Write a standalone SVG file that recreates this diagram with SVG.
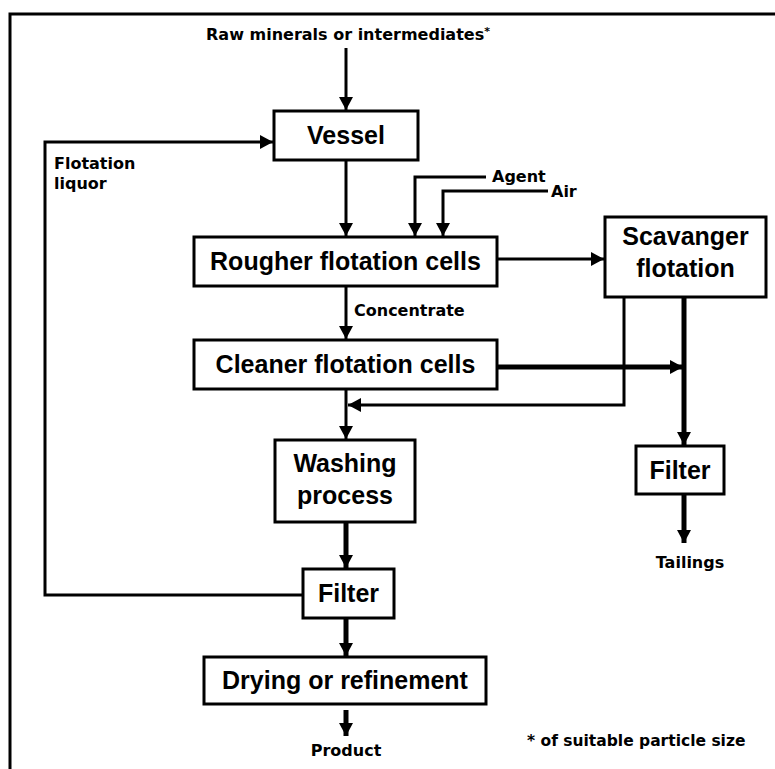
<svg xmlns="http://www.w3.org/2000/svg" width="775" height="769" viewBox="0 0 775 769">
<style>
.box{fill:#fff;stroke:#000;stroke-width:3}
.bt{font-family:"Liberation Sans",Arial,sans-serif;font-weight:bold;font-size:25px;text-anchor:middle;fill:#000}
.lb{font-family:"DejaVu Sans","Liberation Sans",sans-serif;font-weight:bold;font-size:16px;fill:#000}
.ln{fill:none;stroke:#000;stroke-width:3}
.tk{fill:none;stroke:#000;stroke-width:5}
</style>
<defs>
<marker id="ah" markerUnits="userSpaceOnUse" markerWidth="14" markerHeight="14" refX="13" refY="7" orient="auto">
<path d="M0,0 L13,7 L0,14 z" fill="#000"/>
</marker>
</defs>
<rect width="775" height="769" fill="#fff"/>
<path d="M10,769 V14 H775" fill="none" stroke="#000" stroke-width="3"/>

<g id="connectors">
<path class="ln" d="M346,48 V110" marker-end="url(#ah)"/>
<path class="ln" d="M346,160 V236" marker-end="url(#ah)"/>
<path class="ln" d="M486,177 H415 V236" marker-end="url(#ah)"/>
<path class="ln" d="M548,191 H443 V236" marker-end="url(#ah)"/>
<path class="ln" d="M497,259 H604" marker-end="url(#ah)"/>
<path class="ln" d="M346,286 V339" marker-end="url(#ah)"/>
<path class="tk" d="M497,367 H683" marker-end="url(#ah)"/>
<path class="ln" d="M624,297 V405 H348" marker-end="url(#ah)"/>
<path class="ln" d="M346,389 V439" marker-end="url(#ah)"/>
<path class="tk" d="M684,297 V445" marker-end="url(#ah)"/>
<path class="tk" d="M684,494 V543" marker-end="url(#ah)"/>
<path class="tk" d="M346,522 V568" marker-end="url(#ah)"/>
<path class="ln" d="M303,595 H45 V142 H273" marker-end="url(#ah)"/>
<path class="tk" d="M346,618 V656" marker-end="url(#ah)"/>
<path class="tk" d="M346,710 V736" marker-end="url(#ah)"/>
</g>

<g id="labels">
<text class="lb" x="348" y="40" text-anchor="middle">Raw minerals or intermediates<tspan font-size="11" dy="-5">*</tspan></text>
<text class="lb" x="54" y="169">Flotation</text>
<text class="lb" x="54" y="189">liquor</text>
<text class="lb" x="492" y="182">Agent</text>
<text class="lb" x="551" y="197">Air</text>
<text class="lb" x="354" y="316">Concentrate</text>
<text class="lb" x="690" y="568" text-anchor="middle">Tailings</text>
<text class="lb" x="346" y="756" text-anchor="middle">Product</text>
<text class="lb" x="527" y="746" style="font-size:15.5px">* of suitable particle size</text>
</g>

<g id="vessel"><rect class="box" x="274" y="111" width="144" height="49"/><text class="bt" x="346" y="144">Vessel</text></g>
<g id="rougher"><rect class="box" x="194" y="237" width="303" height="49"/><text class="bt" x="345.5" y="270">Rougher flotation cells</text></g>
<g id="scavanger"><rect class="box" x="605" y="217" width="161" height="80"/><text class="bt" x="685.5" y="245">Scavanger</text><text class="bt" x="685.5" y="277">flotation</text></g>
<g id="cleaner"><rect class="box" x="194" y="340" width="303" height="49"/><text class="bt" x="345.5" y="373">Cleaner flotation cells</text></g>
<g id="washing"><rect class="box" x="275" y="440" width="140" height="82"/><text class="bt" x="345" y="472">Washing</text><text class="bt" x="345" y="504">process</text></g>
<g id="filter-right"><rect class="box" x="636" y="446" width="88" height="48"/><text class="bt" x="680" y="479">Filter</text></g>
<g id="filter"><rect class="box" x="303" y="569" width="91" height="49"/><text class="bt" x="348.5" y="602">Filter</text></g>
<g id="drying"><rect class="box" x="204" y="657" width="282" height="47"/><text class="bt" x="345" y="689">Drying or refinement</text></g>
</svg>
